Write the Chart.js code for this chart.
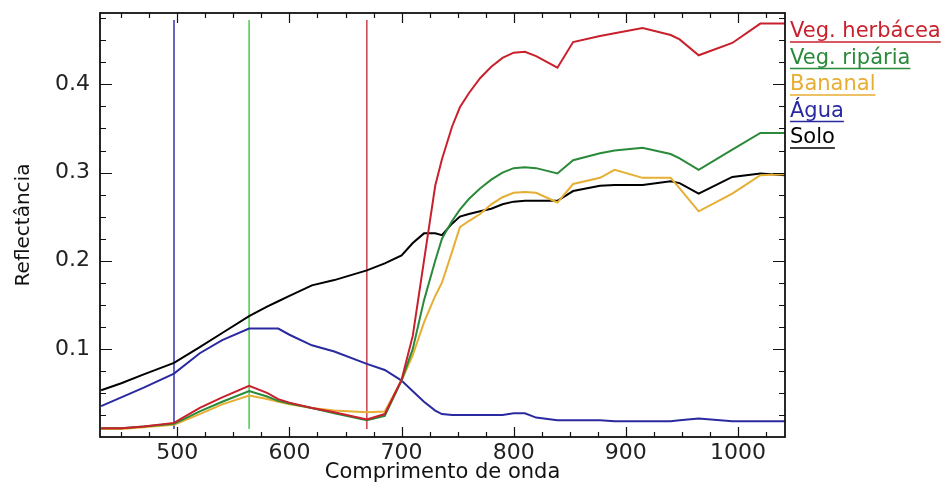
<!DOCTYPE html>
<html>
<head>
<meta charset="utf-8">
<script src="https://cdn.jsdelivr.net/npm/chart.js@4.4.0/dist/chart.umd.min.js"></script>
<style>
	html, body { margin: 0; padding: 0; background: #fff; }
</style>
</head>
<body>
<canvas id="spectra-chart" width="952" height="485"></canvas>
<script>
// wavelength (nm) shared by every curve
const wavelengths = [432, 450, 470, 497, 520, 540, 564, 580, 590, 600, 620, 640, 669, 685, 700, 710, 720, 730, 736, 745, 752, 760, 770, 780, 790, 800, 810, 820, 839, 853, 877, 890, 915, 940, 948, 965, 995, 1020, 1042];

const vegHerbacea = [0.010, 0.010, 0.012, 0.016, 0.033, 0.045, 0.058, 0.050, 0.043, 0.039, 0.033, 0.028, 0.020, 0.026, 0.065, 0.115, 0.200, 0.285, 0.315, 0.352, 0.374, 0.390, 0.407, 0.420, 0.430, 0.436, 0.437, 0.432, 0.419, 0.448, 0.455, 0.458, 0.464, 0.456, 0.451, 0.433, 0.447, 0.469, 0.469];
const vegRiparia = [0.010, 0.010, 0.012, 0.015, 0.029, 0.040, 0.052, 0.046, 0.041, 0.038, 0.033, 0.027, 0.019, 0.024, 0.064, 0.100, 0.155, 0.200, 0.225, 0.245, 0.258, 0.270, 0.282, 0.292, 0.300, 0.305, 0.306, 0.305, 0.299, 0.314, 0.322, 0.325, 0.328, 0.321, 0.316, 0.303, 0.326, 0.345, 0.345];
const bananal = [0.009, 0.009, 0.011, 0.014, 0.026, 0.037, 0.047, 0.043, 0.040, 0.037, 0.033, 0.030, 0.028, 0.029, 0.064, 0.093, 0.130, 0.160, 0.175, 0.210, 0.238, 0.245, 0.253, 0.264, 0.272, 0.277, 0.278, 0.277, 0.266, 0.287, 0.294, 0.303, 0.294, 0.294, 0.282, 0.256, 0.276, 0.297, 0.298];
const agua = [0.035, 0.045, 0.056, 0.072, 0.095, 0.110, 0.123, 0.123, 0.123, 0.116, 0.104, 0.097, 0.083, 0.076, 0.064, 0.052, 0.040, 0.030, 0.026, 0.025, 0.025, 0.025, 0.025, 0.025, 0.025, 0.027, 0.027, 0.022, 0.019, 0.019, 0.019, 0.018, 0.018, 0.018, 0.019, 0.021, 0.018, 0.018, 0.018];
const solo = [0.053, 0.061, 0.071, 0.084, 0.102, 0.118, 0.137, 0.148, 0.154, 0.160, 0.172, 0.178, 0.189, 0.197, 0.206, 0.220, 0.231, 0.231, 0.229, 0.242, 0.250, 0.253, 0.256, 0.259, 0.264, 0.267, 0.268, 0.268, 0.268, 0.279, 0.285, 0.286, 0.286, 0.290, 0.288, 0.276, 0.295, 0.299, 0.297];

const seriesNames = ["Veg. herbácea", "Veg. ripária", "Bananal", "Água", "Solo"];
const seriesValues = [vegHerbacea, vegRiparia, bananal, agua, solo];
const seriesColors = ["#c8202c", "#2a8a3a", "#e6ae32", "#2a2aa0", "#000000"];

// band centres marked with vertical lines (blue, green, red)
const bandLines = [497, 564, 669];
const bandColors = ["#3434b0", "#48cc48", "#c8404e"];
const bandRange = [0.009, 0.473];

const xTicks = [500, 600, 700, 800, 900, 1000];
const yTicks = [0.1, 0.2, 0.3, 0.4];

const datasets = [];
seriesNames.forEach((name, i) => {
	datasets.push({
		label: name,
		data: wavelengths.map((w, j) => ({ x: w, y: seriesValues[i][j] })),
		borderColor: seriesColors[i],
		backgroundColor: seriesColors[i],
		borderWidth: 2,
		pointRadius: 0,
		showLine: true,
		tension: 0,
		order: i + 1,
	});
});
bandLines.forEach((w, i) => {
	datasets.push({
		label: "band " + w,
		data: bandRange.map((v) => ({ x: w, y: v })),
		borderColor: bandColors[i],
		borderWidth: 1.5,
		pointRadius: 0,
		showLine: true,
		order: 10,
	});
});

// box with inward ticks on all four sides
const frameTicks = {
	id: "frameTicks",
	afterDatasetsDraw(chart) {
		const { ctx, chartArea: a, scales } = chart;
		const x = scales.x;
		const y = scales.y;
		ctx.save();
		ctx.strokeStyle = "#111";
		ctx.lineWidth = 1.2;
		ctx.beginPath();
		for (let v = 425; v <= x.max; v += 25) {
			if (v < x.min) continue;
			const px = Math.round(x.getPixelForValue(v)) + 0.5;
			const len = v % 100 === 0 ? 10 : 5;
			ctx.moveTo(px, a.bottom);
			ctx.lineTo(px, a.bottom - len);
			ctx.moveTo(px, a.top);
			ctx.lineTo(px, a.top + len);
		}
		for (let k = 1; k * 0.025 <= y.max; k++) {
			const py = Math.round(y.getPixelForValue(k * 0.025)) + 0.5;
			const len = k % 4 === 0 ? 12 : 6;
			ctx.moveTo(a.left, py);
			ctx.lineTo(a.left + len, py);
			ctx.moveTo(a.right, py);
			ctx.lineTo(a.right - len, py);
		}
		ctx.stroke();
		ctx.lineWidth = 1.8;
		ctx.strokeRect(a.left, a.top, a.right - a.left, a.bottom - a.top);
		ctx.restore();
	},
};

// underlined coloured labels to the right of the plot
const sideLegend = {
	id: "sideLegend",
	afterDraw(chart) {
		const { ctx, chartArea: a } = chart;
		ctx.save();
		ctx.font = "21px 'DejaVu Sans'";
		ctx.textBaseline = "alphabetic";
		seriesNames.forEach((name, i) => {
			const tx = a.right + 5;
			const ty = 37 + i * 26.5;
			ctx.fillStyle = seriesColors[i];
			ctx.fillText(name, tx, ty);
			const w = ctx.measureText(name).width;
			ctx.strokeStyle = seriesColors[i];
			ctx.lineWidth = 1.5;
			ctx.beginPath();
			ctx.moveTo(tx, ty + 5);
			ctx.lineTo(tx + w, ty + 5);
			ctx.stroke();
		});
		ctx.restore();
	},
};

new Chart(document.getElementById("spectra-chart"), {
	type: "scatter",
	data: { datasets: datasets },
	plugins: [frameTicks, sideLegend],
	options: {
		responsive: false,
		animation: false,
		layout: { padding: { left: 0, top: 13, right: 167, bottom: 0 } },
		plugins: {
			legend: { display: false },
			tooltip: { enabled: false },
		},
		scales: {
			x: {
				type: "linear",
				min: 431,
				max: 1042,
				afterFit: (s) => {
					s.height = 48;
					s.paddingLeft = 0;
					s.paddingRight = 0;
				},
				afterBuildTicks: (s) => { s.ticks = xTicks.map((v) => ({ value: v })); },
				grid: { display: false, drawTicks: false },
				border: { display: false },
				ticks: {
					padding: 3,
					color: "#222",
					font: { family: "DejaVu Sans", size: 22 },
					maxRotation: 0,
					callback: (v) => String(v),
				},
				title: {
					display: true,
					text: "Comprimento de onda",
					color: "#111",
					font: { family: "DejaVu Sans", size: 21 },
					padding: { top: 0, bottom: 0 },
				},
			},
			y: {
				type: "linear",
				min: 0,
				max: 0.481,
				afterFit: (s) => {
					s.width = 100;
					s.paddingTop = 0;
					s.paddingBottom = 0;
				},
				afterBuildTicks: (s) => { s.ticks = yTicks.map((v) => ({ value: v })); },
				grid: { display: false, drawTicks: false },
				border: { display: false },
				ticks: {
					padding: 10,
					color: "#222",
					font: { family: "DejaVu Sans", size: 22 },
					callback: (v) => v.toFixed(1),
				},
				title: {
					display: true,
					text: "Reflectância",
					color: "#111",
					font: { family: "DejaVu Sans", size: 20 },
					padding: { top: 12, bottom: 0 },
				},
			},
		},
	},
});
</script>
</body>
</html>
